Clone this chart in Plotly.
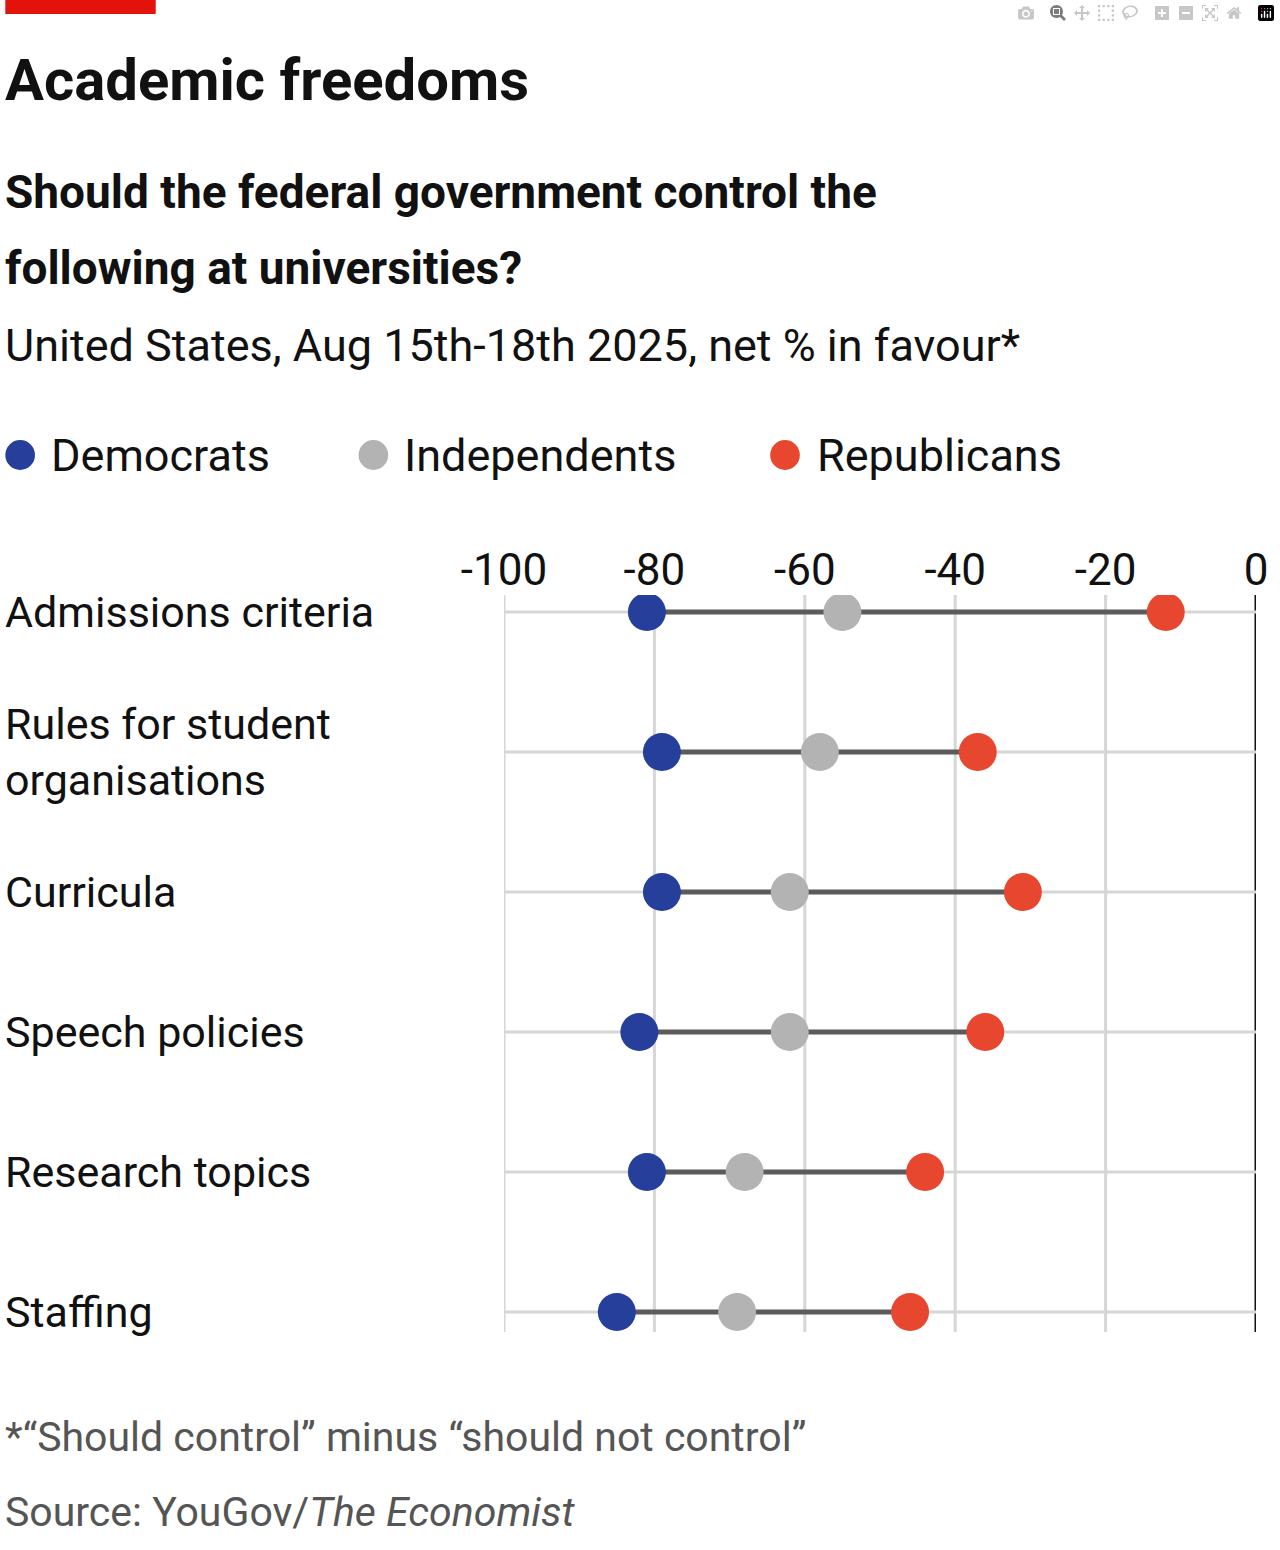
import plotly.graph_objects as go

categories = ["Admissions criteria", "Rules for student<br>organisations", "Curricula",
              "Speech policies", "Research topics", "Staffing"]
democrats = [-81, -79, -79, -82, -81, -85]
independents = [-55, -58, -62, -62, -68, -69]
republicans = [-12, -37, -31, -36, -44, -46]
tick_vals = [-100, -80, -60, -40, -20, 0]
tick_text = ["-100", "-80", "-60", "-40", "-20", "0"]

W, H = 1280, 1550
L, R, T, B = 504, 16, 595, 218
pw, ph = W - L - R, H - T - B
def px(x): return (x - L) / pw
def py(y): return (H - B - y) / ph

FONT = "Roboto, sans-serif"
yy = list(range(len(categories)))
fig = go.Figure()
for i in yy:
    fig.add_trace(go.Scatter(x=[democrats[i], republicans[i]], y=[i, i], mode="lines",
                             line=dict(color="#5b5b5b", width=5), showlegend=False, hoverinfo="skip"))
for vals, col in [(democrats, "#253f9b"), (independents, "#b3b3b3"), (republicans, "#e8472f")]:
    fig.add_trace(go.Scatter(x=vals, y=yy, mode="markers", showlegend=False,
                             marker=dict(size=38, color=col, line=dict(width=0))))

ann = []
for i, c in enumerate(categories):
    ann.append(dict(text=c, x=px(-2), y=i, xref="paper", yref="y", xanchor="left", yanchor="middle",
                    showarrow=False, align="left", font=dict(size=43, color="#111", family=FONT)))
def text(t, x, y, size, color="#111", bold=False):
    if bold: t = "<b>" + t + "</b>"
    ann.append(dict(text=t, x=px(x), y=py(y), xref="paper", yref="paper", xanchor="left",
                    yanchor="middle", showarrow=False, align="left",
                    font=dict(size=size, color=color, family=FONT)))
text("Academic freedoms", -2, 80, 58, bold=True)
text("Should the federal government control the", -2, 192, 46, bold=True)
text("following at universities?", -2, 268, 46, bold=True)
text("United States, Aug 15th-18th 2025, net % in favour*", -2, 345, 45)
text("Democrats", 44, 455, 45)
text("Independents", 401, 455, 45)
text("Republicans", 818, 455, 45)
text("*“Should control” minus “should not control”", -2, 1437, 41, color="#555")
text("Source: YouGov/<i>The Economist</i>", -2, 1512, 41, color="#555")

shapes = [dict(type="rect", xref="paper", yref="paper", x0=px(0), x1=px(152), y0=py(0), y1=py(14),
               fillcolor="#e3120b", line=dict(width=0))]
for cx, col in [(15, "#253f9b"), (372, "#b3b3b3"), (788, "#e8472f")]:
    shapes.append(dict(type="circle", xref="paper", yref="paper", x0=px(cx - 15), x1=px(cx + 15),
                       y0=py(440), y1=py(470), fillcolor=col, line=dict(width=0)))
for i in yy:
    shapes.append(dict(type="line", xref="x", yref="y", x0=-100, x1=0, y0=i, y1=i,
                       line=dict(color="#d6d6d6", width=3), layer="below"))
for v in tick_vals:
    shapes.append(dict(type="line", xref="x", yref="paper", x0=v, x1=v, y0=0, y1=1,
                       line=dict(color="#111" if v == 0 else "#d6d6d6", width=3), layer="below"))

fig.update_layout(width=W, height=H, margin=dict(l=L, r=R, t=T, b=B),
                  paper_bgcolor="white", plot_bgcolor="white", annotations=ann, shapes=shapes,
                  xaxis=dict(range=[-100, 0], side="top", tickvals=tick_vals, ticktext=tick_text,
                             showgrid=False, zeroline=False, ticks="",
                             tickfont=dict(size=44, color="#111", family=FONT)),
                  yaxis=dict(range=[5.143, -0.121], showticklabels=False, showgrid=False, zeroline=False))
fig.write_html("out.html", post_script="document.body.style.margin='0';")
